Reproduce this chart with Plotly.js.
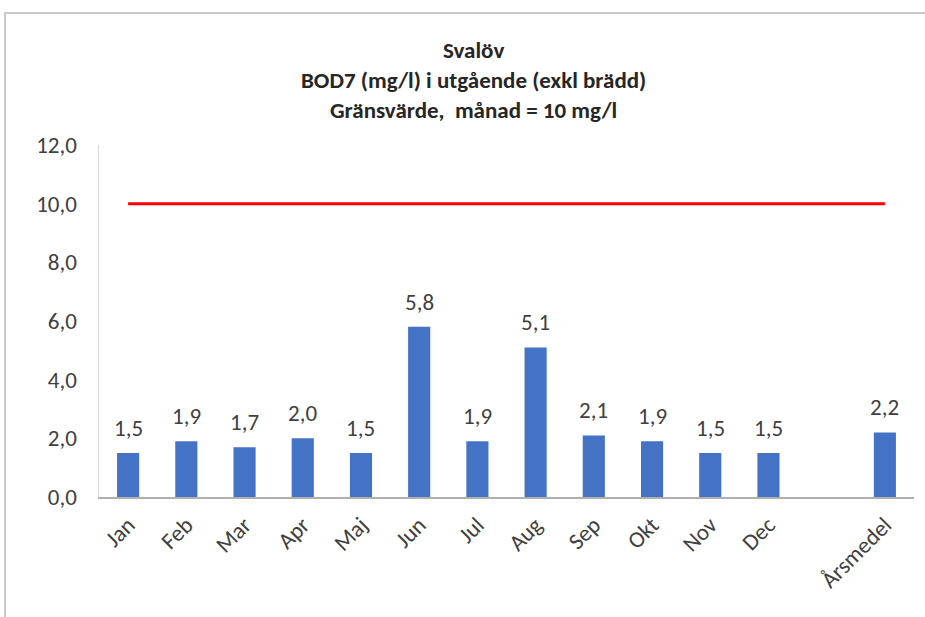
<!DOCTYPE html>
<html>
<head>
<meta charset="utf-8">
<script src="https://cdn.plot.ly/plotly-3.0.1.min.js"></script>
<style>
  html, body { margin: 0; padding: 0; background: #ffffff; }
  #chart { position: absolute; left: 0; top: 0; width: 925px; height: 617px; }
  #frameTop { position: absolute; left: 4px; top: 12px; width: 921px; height: 2px; background: #c9c9c9; z-index: 5; }
  #frameLeft { position: absolute; left: 4px; top: 12px; width: 2px; height: 605px; background: #c9c9c9; z-index: 5; }
</style>
</head>
<body>
<div id="chart"></div>
<div id="frameTop"></div>
<div id="frameLeft"></div>
<script>
// ---- data ----
var months = ['Jan', 'Feb', 'Mar', 'Apr', 'Maj', 'Jun', 'Jul', 'Aug', 'Sep', 'Okt', 'Nov', 'Dec'];
var monthlyBOD7 = [1.5, 1.9, 1.7, 2.0, 1.5, 5.8, 1.9, 5.1, 2.1, 1.9, 1.5, 1.5];
var spacerLabel = ' ';
var annualLabel = 'Årsmedel';
var annualMean = 2.2;
var limitValue = 10;
var yTicks = [0, 2, 4, 6, 8, 10, 12];

// ---- build ----
var categories = months.concat([spacerLabel, annualLabel]);
var barValues = monthlyBOD7.concat([null, annualMean]);
var limitValues = categories.map(function () { return limitValue; });

var textColor = '#404040';
var fontFamily = 'Calibri, Carlito, "Liberation Sans Narrow", "Open Sans", sans-serif';
var fontSize = 23;

var bars = {
  type: 'bar',
  x: categories,
  y: barValues,
  marker: { color: '#4472C4' },
  hoverinfo: 'x+y',
  showlegend: false
};

var limitLine = {
  type: 'scatter',
  mode: 'lines',
  x: categories,
  y: limitValues,
  line: { color: '#FF0000', width: 3 },
  hoverinfo: 'y',
  showlegend: false
};

// value labels above bars, positioned through the axes from the data
var labels = [];
categories.forEach(function (c, i) {
  var v = barValues[i];
  if (v === null) return;
  labels.push({
    x: c,
    y: v,
    xref: 'x',
    yref: 'y',
    text: v.toFixed(1).replace('.', ','),
    showarrow: false,
    yanchor: 'bottom',
    yshift: 9,
    font: { family: fontFamily, size: fontSize, color: textColor }
  });
});

var layout = {
  width: 925,
  height: 617,
  separators: ',.',
  paper_bgcolor: '#ffffff',
  plot_bgcolor: '#ffffff',
  margin: { l: 99, r: 11, t: 145, b: 120, pad: 0 },
  bargap: 0.62,
  annotations: labels,
  title: {
    text: '<b>Svalöv</b><br><b>BOD7 (mg/l) i utgående (exkl brädd)</b><br><b>Gränsvärde,  månad = 10 mg/l</b>',
    font: { family: fontFamily, size: fontSize, color: '#262626' },
    x: 0.512,
    xref: 'container',
    xanchor: 'center',
    y: 1 - 58 / 617,
    yref: 'container',
    yanchor: 'top'
  },
  xaxis: {
    type: 'category',
    categoryorder: 'array',
    categoryarray: categories,
    tickangle: -45,
    tickfont: { family: fontFamily, size: fontSize, color: textColor },
    ticklabelstandoff: 4,
    showline: true,
    linecolor: '#B0B0B0',
    linewidth: 1.5,
    ticks: '',
    showgrid: false,
    zeroline: false
  },
  yaxis: {
    range: [0, 12],
    tickvals: yTicks,
    tickformat: '.1f',
    tickfont: { family: fontFamily, size: fontSize, color: textColor },
    ticklabelstandoff: 16,
    showline: true,
    linecolor: '#D9D9D9',
    linewidth: 1.5,
    ticks: '',
    showgrid: false,
    zeroline: false
  }
};

Plotly.newPlot('chart', [bars, limitLine], layout, { displayModeBar: false, staticPlot: true });
</script>
</body>
</html>
